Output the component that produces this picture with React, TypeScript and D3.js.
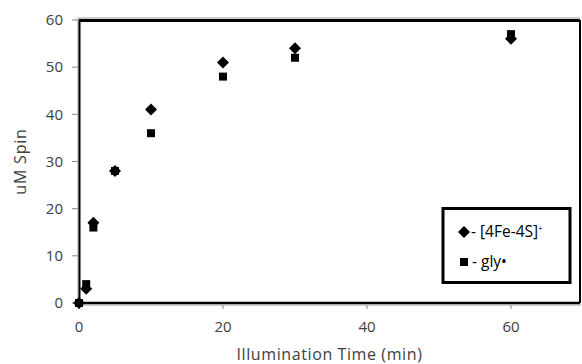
import * as d3 from 'd3';

const times = [0, 1, 2, 5, 10, 20, 30, 60];
const clusterSpin = [0, 3, 17, 28, 41, 51, 54, 56];
const glySpin = [0, 4, 16, 28, 36, 48, 52, 57];
const xTicks = [0, 20, 40, 60];
const yTicks = [0, 10, 20, 30, 40, 50, 60];

const W = 582;
const H = 364;
const margin = { top: 20, right: 1, bottom: 61, left: 79 };
const font = '"Open Sans", sans-serif';
const textColor = '#404040';

export default function App() {
  const x = d3.scaleLinear().domain([0, 70]).range([margin.left, W - margin.right + 2]);
  const y = d3.scaleLinear().domain([0, 60]).range([H - margin.bottom, margin.top]);
  const x0 = margin.left;
  const x1 = W - margin.right - 1;
  const y0 = H - margin.bottom;
  const y1 = margin.top;

  const diamond = (cx: number, cy: number, r = 6) =>
    `M${cx},${cy - r}L${cx + r},${cy}L${cx},${cy + r}L${cx - r},${cy}Z`;

  return (
    <svg width={W} height={H} style={{ position: 'absolute', left: 0, top: 0, background: '#fff' }}>
      {/* plot frame */}
      <line x1={x0 - 1} x2={x1} y1={y1 - 2} y2={y1 - 2} stroke="#999" strokeWidth={1} />
      <line x1={x0} x2={x1} y1={y1 + 0.5} y2={y1 + 0.5} stroke="#000" strokeWidth={3} />
      <line x1={x1} x2={x1} y1={y1} y2={y0} stroke="#000" strokeWidth={2} />
      <line x1={x0 - 1} x2={x0 - 1} y1={y1 - 2} y2={y0 + 2} stroke="#999" strokeWidth={1} />
      <line x1={x0 + 0.5} x2={x0 + 0.5} y1={y1} y2={y0} stroke="#000" strokeWidth={2} />
      <line x1={x0} x2={x1} y1={y0} y2={y0} stroke="#000" strokeWidth={2.5} />
      <line x1={x0} x2={x1 + 1} y1={y0 + 2} y2={y0 + 2} stroke="#999" strokeWidth={1} />

      {/* y axis */}
      {yTicks.map(t => (
        <g key={'y' + t}>
          <line x1={x0 - 7} x2={x0 - 1} y1={y(t)} y2={y(t)} stroke="#888" strokeWidth={1} />
          <text x={x0 - 16} y={y(t)} dy="0.35em" textAnchor="end" fontFamily={font} fontSize={15} fill={textColor}>
            {t}
          </text>
        </g>
      ))}
      {/* x axis */}
      {xTicks.map(t => (
        <g key={'x' + t}>
          <line x1={x(t)} x2={x(t)} y1={y0 + 2} y2={y0 + 6} stroke="#888" strokeWidth={1} />
          <text x={x(t)} y={y0 + 24} dy="0.35em" textAnchor="middle" fontFamily={font} fontSize={15} fill={textColor}>
            {t}
          </text>
        </g>
      ))}

      <text x={(x0 + x1) / 2} y={354} dy="0.35em" textAnchor="middle" fontFamily={font} fontSize={16} letterSpacing={0.6} fill={textColor}>
        Illumination Time (min)
      </text>
      <text transform={`translate(20,${(y0 + y1) / 2}) rotate(-90)`} dy="0.35em" textAnchor="middle" fontFamily={font} fontSize={16} letterSpacing={0.8} fill={textColor}>
        uM Spin
      </text>

      {/* series */}
      {times.map((t, i) => (
        <rect key={'g' + i} x={x(t) - 4} y={y(glySpin[i]) - 4} width={8} height={8} fill="#000" />
      ))}
      {times.map((t, i) => (
        <path key={'c' + i} d={diamond(x(t), y(clusterSpin[i]))} fill="#000" />
      ))}

      {/* legend */}
      <rect x={443} y={208.5} width={127} height={74} fill="#fff" stroke="#000" strokeWidth={3} />
      <path d={diamond(464, 232, 6)} fill="#000" />
      <text x={471} y={232} dy="0.35em" fontFamily={font} fontSize={15.5} fill="#000">
        - [4Fe-4S]<tspan dy="-6" fontSize={8}>+</tspan>
      </text>
      <rect x={460} y={258} width={8} height={8} fill="#000" />
      <text x={472} y={262} dy="0.35em" fontFamily={font} fontSize={15.5} fill="#000">
        - gly•
      </text>
    </svg>
  );
}
